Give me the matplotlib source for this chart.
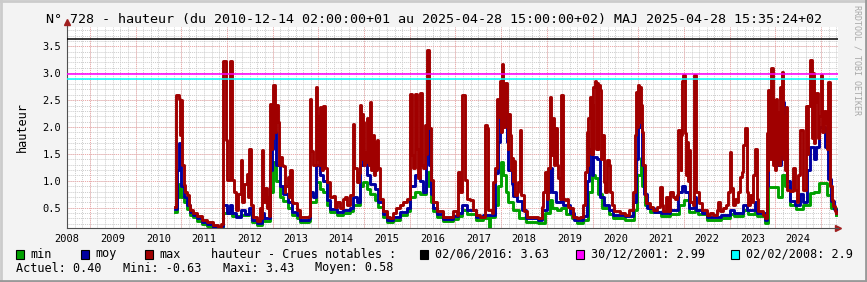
import matplotlib.pyplot as plt
from matplotlib.patches import Rectangle
import numpy as np

# (axis year, hauteur m), drawn as steps
max_pts = [
    (2010.37, 0.52), (2010.39, 2.59), (2010.44, 2.52), (2010.47, 1.85), (2010.49, 2.50),
    (2010.52, 1.30), (2010.55, 0.92), (2010.58, 0.80), (2010.62, 0.74), (2010.66, 0.55),
    (2010.69, 0.46), (2010.76, 0.40), (2010.84, 0.34), (2010.95, 0.28), (2011.06, 0.24),
    (2011.20, 0.18), (2011.30, 0.15), (2011.38, 0.20), (2011.41, 0.40), (2011.42, 3.23),
    (2011.47, 1.76), (2011.50, 1.01), (2011.56, 3.23), (2011.62, 1.02), (2011.66, 0.80),
    (2011.70, 0.45), (2011.74, 0.75), (2011.80, 1.39), (2011.84, 0.60), (2011.88, 0.95),
    (2011.93, 1.12), (2011.96, 0.70), (2011.98, 1.59), (2012.02, 0.55), (2012.06, 0.32),
    (2012.15, 0.25), (2012.22, 0.50), (2012.24, 0.30), (2012.26, 1.58), (2012.29, 0.60),
    (2012.33, 0.86), (2012.37, 0.50), (2012.39, 0.70), (2012.42, 0.35), (2012.44, 2.43),
    (2012.46, 1.60), (2012.48, 2.25), (2012.50, 1.80), (2012.51, 2.79), (2012.55, 1.90),
    (2012.58, 2.41), (2012.61, 2.10), (2012.63, 1.30), (2012.65, 1.44), (2012.70, 1.30),
    (2012.73, 1.28), (2012.76, 0.80), (2012.78, 0.90), (2012.84, 1.08), (2012.86, 0.70),
    (2012.88, 1.20), (2012.92, 0.60), (2012.95, 0.58), (2013.03, 0.46), (2013.10, 0.33),
    (2013.30, 0.35), (2013.32, 2.52), (2013.35, 1.56), (2013.39, 1.29), (2013.44, 2.75),
    (2013.47, 1.40), (2013.49, 2.20), (2013.51, 1.30), (2013.53, 2.38), (2013.55, 1.30),
    (2013.57, 2.22), (2013.59, 1.20), (2013.61, 2.39), (2013.64, 1.23), (2013.68, 0.98),
    (2013.75, 0.70), (2013.83, 0.71), (2013.87, 0.52), (2013.90, 0.61), (2013.97, 0.49),
    (2014.05, 0.67), (2014.08, 0.70), (2014.12, 0.55), (2014.19, 0.74), (2014.25, 2.06),
    (2014.29, 1.23), (2014.34, 0.98), (2014.38, 1.14), (2014.41, 2.41), (2014.43, 1.40),
    (2014.45, 2.25), (2014.48, 2.10), (2014.50, 1.30), (2014.52, 1.54), (2014.54, 1.35),
    (2014.56, 2.16), (2014.59, 2.04), (2014.61, 1.30), (2014.63, 2.46), (2014.65, 1.20),
    (2014.67, 1.79), (2014.70, 1.85), (2014.72, 1.10), (2014.74, 1.73), (2014.76, 1.20),
    (2014.78, 1.76), (2014.81, 1.23), (2014.85, 0.67), (2014.92, 0.43), (2015.00, 0.33),
    (2015.07, 0.30), (2015.14, 0.40), (2015.21, 0.49), (2015.29, 0.55), (2015.36, 0.61),
    (2015.43, 0.67), (2015.50, 0.70), (2015.51, 2.61), (2015.54, 1.48), (2015.58, 1.23),
    (2015.61, 2.61), (2015.65, 1.60), (2015.67, 1.10), (2015.69, 1.05), (2015.72, 2.63),
    (2015.76, 1.30), (2015.80, 1.23), (2015.83, 2.04), (2015.86, 1.50), (2015.88, 3.43),
    (2015.93, 1.98), (2015.96, 1.02), (2016.00, 0.61), (2016.09, 0.43), (2016.23, 0.33),
    (2016.38, 0.33), (2016.45, 0.43), (2016.53, 0.36), (2016.56, 1.17), (2016.60, 0.80),
    (2016.64, 2.59), (2016.70, 1.01), (2016.75, 0.67), (2016.82, 0.64), (2016.89, 0.46),
    (2016.96, 0.36), (2017.04, 0.33), (2017.14, 0.40), (2017.15, 2.04), (2017.18, 1.98),
    (2017.22, 0.45), (2017.30, 0.40), (2017.33, 0.98), (2017.37, 1.23), (2017.40, 2.52),
    (2017.44, 2.19), (2017.47, 2.86), (2017.50, 1.90), (2017.52, 3.18), (2017.55, 2.00),
    (2017.58, 2.81), (2017.62, 2.25), (2017.64, 1.60), (2017.66, 2.25), (2017.69, 1.85),
    (2017.71, 1.20), (2017.73, 1.42), (2017.75, 1.00), (2017.77, 1.36), (2017.80, 0.74),
    (2017.84, 0.80), (2017.87, 0.98), (2017.91, 1.95), (2017.94, 0.74), (2017.99, 0.43),
    (2018.06, 0.33), (2018.20, 0.33), (2018.30, 0.30), (2018.39, 0.52), (2018.42, 0.80),
    (2018.46, 1.17), (2018.50, 0.67), (2018.53, 1.23), (2018.56, 2.56), (2018.60, 1.48),
    (2018.64, 2.16), (2018.66, 1.30), (2018.68, 1.98), (2018.72, 1.29), (2018.75, 1.05),
    (2018.79, 0.67), (2018.81, 2.59), (2018.86, 0.67), (2018.90, 0.64), (2018.93, 0.67),
    (2018.97, 0.52), (2019.01, 0.49), (2019.08, 0.33), (2019.15, 0.30), (2019.22, 0.33),
    (2019.30, 0.55), (2019.33, 1.17), (2019.37, 1.91), (2019.39, 1.30), (2019.41, 2.16),
    (2019.44, 2.56), (2019.46, 1.50), (2019.48, 2.41), (2019.50, 1.50), (2019.52, 2.75),
    (2019.55, 2.86), (2019.57, 1.60), (2019.59, 2.81), (2019.61, 1.60), (2019.63, 2.78),
    (2019.66, 2.69), (2019.68, 1.40), (2019.70, 1.85), (2019.74, 0.98), (2019.77, 0.80),
    (2019.81, 1.39), (2019.85, 1.29), (2019.88, 0.80), (2019.92, 0.55), (2019.96, 0.43),
    (2020.10, 0.40), (2020.20, 0.36), (2020.30, 0.46), (2020.39, 0.80), (2020.43, 1.85),
    (2020.46, 2.66), (2020.48, 2.00), (2020.50, 2.78), (2020.52, 2.10), (2020.54, 2.75),
    (2020.57, 2.41), (2020.59, 1.91), (2020.61, 1.29), (2020.65, 0.74), (2020.68, 0.58),
    (2020.75, 0.52), (2020.83, 0.46), (2020.90, 0.52), (2020.97, 0.89), (2021.01, 0.55),
    (2021.05, 0.43), (2021.10, 0.70), (2021.15, 0.43), (2021.20, 0.80), (2021.27, 0.70),
    (2021.30, 0.67), (2021.34, 0.74), (2021.38, 1.95), (2021.41, 1.91), (2021.43, 1.20),
    (2021.44, 1.85), (2021.46, 2.86), (2021.49, 2.97), (2021.53, 1.89), (2021.55, 1.10),
    (2021.57, 1.73), (2021.59, 1.00), (2021.61, 1.57), (2021.64, 0.61), (2021.69, 0.55),
    (2021.72, 2.97), (2021.76, 0.80), (2021.82, 0.58), (2021.90, 0.46), (2022.00, 0.36),
    (2022.07, 0.40), (2022.14, 0.36), (2022.22, 0.46), (2022.25, 0.61), (2022.29, 0.43),
    (2022.36, 0.49), (2022.43, 0.55), (2022.47, 0.80), (2022.51, 1.54), (2022.54, 0.86),
    (2022.58, 0.55), (2022.62, 0.67), (2022.65, 0.61), (2022.69, 0.80), (2022.73, 1.08),
    (2022.76, 1.17), (2022.80, 1.67), (2022.84, 1.98), (2022.87, 0.80), (2022.91, 0.55),
    (2022.95, 0.74), (2022.98, 0.61), (2023.02, 1.11), (2023.05, 1.60), (2023.09, 0.67),
    (2023.13, 0.43), (2023.22, 0.36), (2023.27, 0.30), (2023.31, 1.89), (2023.33, 1.20),
    (2023.35, 2.69), (2023.38, 1.40), (2023.41, 3.09), (2023.44, 1.30), (2023.46, 2.50),
    (2023.49, 1.20), (2023.51, 2.52), (2023.54, 1.40), (2023.56, 2.28), (2023.58, 1.30),
    (2023.60, 2.75), (2023.62, 1.50), (2023.64, 3.03), (2023.67, 1.40), (2023.69, 2.20),
    (2023.71, 1.20), (2023.73, 2.38), (2023.76, 0.83), (2023.82, 0.82), (2023.89, 1.24),
    (2023.93, 0.83), (2023.97, 0.60), (2024.00, 1.10), (2024.04, 1.94), (2024.11, 0.83),
    (2024.17, 2.40), (2024.20, 1.50), (2024.22, 2.40), (2024.26, 3.25), (2024.30, 1.80),
    (2024.32, 3.00), (2024.35, 1.70), (2024.37, 2.47), (2024.40, 2.63), (2024.44, 1.80),
    (2024.46, 2.20), (2024.50, 2.97), (2024.53, 1.90), (2024.56, 2.30), (2024.61, 2.07),
    (2024.64, 1.60), (2024.66, 2.84), (2024.70, 0.90), (2024.73, 0.64), (2024.77, 0.53),
    (2024.80, 0.44), (2024.83, 0.40),
]

moy_pts = [
    (2010.37, 0.47), (2010.40, 1.20), (2010.44, 1.70), (2010.47, 1.40), (2010.50, 0.90),
    (2010.55, 0.70), (2010.62, 0.55), (2010.69, 0.42), (2010.76, 0.36), (2010.84, 0.30),
    (2010.95, 0.24), (2011.06, 0.20), (2011.20, 0.15), (2011.30, 0.12), (2011.40, 0.16),
    (2011.42, 0.55), (2011.50, 0.40), (2011.56, 0.55), (2011.62, 0.40), (2011.70, 0.33),
    (2011.80, 0.45), (2011.90, 0.38), (2011.98, 0.50), (2012.05, 0.28), (2012.15, 0.21),
    (2012.26, 0.40), (2012.30, 0.30), (2012.42, 0.30), (2012.44, 1.20), (2012.48, 1.60),
    (2012.51, 1.90), (2012.58, 1.30), (2012.65, 0.90), (2012.73, 0.75), (2012.84, 0.60),
    (2012.92, 0.42), (2013.03, 0.36), (2013.10, 0.28), (2013.30, 0.30), (2013.32, 0.80),
    (2013.39, 0.70), (2013.44, 1.29), (2013.53, 1.10), (2013.61, 1.00), (2013.68, 0.65),
    (2013.75, 0.48), (2013.90, 0.42), (2014.05, 0.45), (2014.19, 0.50), (2014.25, 0.70),
    (2014.34, 0.60), (2014.41, 1.30), (2014.48, 1.54), (2014.56, 1.10), (2014.63, 0.95),
    (2014.74, 0.85), (2014.81, 0.60), (2014.92, 0.38), (2015.00, 0.28), (2015.14, 0.32),
    (2015.29, 0.42), (2015.43, 0.50), (2015.51, 0.90), (2015.61, 1.11), (2015.72, 1.00),
    (2015.80, 0.80), (2015.85, 1.50), (2015.88, 2.04), (2015.93, 1.30), (2015.96, 0.75),
    (2016.00, 0.50), (2016.09, 0.38), (2016.23, 0.29), (2016.45, 0.34), (2016.56, 0.40),
    (2016.64, 0.55), (2016.75, 0.45), (2016.96, 0.32), (2017.11, 0.36), (2017.30, 0.36),
    (2017.37, 1.14), (2017.44, 1.73), (2017.48, 2.52), (2017.55, 2.52), (2017.58, 2.25),
    (2017.62, 1.73), (2017.66, 1.20), (2017.73, 0.95), (2017.77, 0.72), (2017.85, 0.62),
    (2017.95, 0.45), (2018.05, 0.30), (2018.30, 0.28), (2018.40, 0.45), (2018.50, 0.80),
    (2018.56, 1.23), (2018.62, 0.80), (2018.70, 0.60), (2018.81, 0.70), (2018.86, 0.55),
    (2019.00, 0.40), (2019.10, 0.28), (2019.30, 0.35), (2019.37, 1.00), (2019.42, 1.60),
    (2019.48, 1.11), (2019.52, 1.45), (2019.60, 1.40), (2019.66, 0.70), (2019.75, 0.55),
    (2019.85, 0.45), (2019.95, 0.36), (2020.20, 0.34), (2020.38, 0.60), (2020.45, 1.40),
    (2020.50, 2.00), (2020.55, 2.10), (2020.58, 1.30), (2020.62, 0.75), (2020.70, 0.50),
    (2020.85, 0.42), (2021.00, 0.40), (2021.20, 0.45), (2021.38, 0.80), (2021.45, 0.90),
    (2021.53, 0.80), (2021.62, 0.50), (2021.72, 0.70), (2021.76, 0.45), (2021.90, 0.40),
    (2022.00, 0.32), (2022.30, 0.36), (2022.50, 0.45), (2022.60, 0.40), (2022.80, 0.55),
    (2022.87, 0.45), (2023.00, 0.45), (2023.05, 0.60), (2023.10, 0.40), (2023.27, 0.27),
    (2023.31, 0.90), (2023.35, 1.50), (2023.46, 1.50), (2023.55, 1.30), (2023.62, 2.00),
    (2023.64, 2.47), (2023.69, 1.60), (2023.75, 1.00), (2023.82, 0.62), (2023.92, 0.55),
    (2024.04, 0.75), (2024.11, 0.60), (2024.20, 1.20), (2024.26, 1.63), (2024.35, 1.40),
    (2024.40, 1.63), (2024.46, 2.00), (2024.55, 2.00), (2024.58, 1.63), (2024.66, 1.03),
    (2024.72, 0.63), (2024.78, 0.47), (2024.83, 0.42),
]

min_pts = [
    (2010.37, 0.42), (2010.40, 0.70), (2010.44, 0.95), (2010.50, 0.70), (2010.55, 0.60),
    (2010.62, 0.48), (2010.69, 0.37), (2010.76, 0.32), (2010.84, 0.26), (2010.95, 0.20),
    (2011.06, 0.16), (2011.20, 0.12), (2011.30, 0.09), (2011.40, 0.12), (2011.42, 0.40),
    (2011.56, 0.42), (2011.62, 0.34), (2011.80, 0.36), (2011.98, 0.40), (2012.05, 0.24),
    (2012.15, 0.17), (2012.26, 0.34), (2012.30, 0.26), (2012.42, 0.26), (2012.44, 0.80),
    (2012.51, 1.35), (2012.58, 1.00), (2012.65, 0.70), (2012.73, 0.62), (2012.84, 0.50),
    (2012.92, 0.37), (2013.03, 0.31), (2013.10, 0.24), (2013.30, 0.26), (2013.32, 0.60),
    (2013.44, 0.98), (2013.53, 0.85), (2013.61, 0.80), (2013.68, 0.55), (2013.75, 0.42),
    (2013.90, 0.37), (2014.05, 0.40), (2014.19, 0.44), (2014.25, 0.55), (2014.41, 0.90),
    (2014.48, 0.98), (2014.56, 0.85), (2014.63, 0.75), (2014.74, 0.65), (2014.81, 0.52),
    (2014.92, 0.33), (2015.00, 0.24), (2015.14, 0.27), (2015.29, 0.37), (2015.43, 0.44),
    (2015.51, 0.70), (2015.61, 0.80), (2015.72, 0.75), (2015.85, 0.90), (2015.88, 1.17),
    (2015.93, 0.90), (2015.96, 0.60), (2016.00, 0.44), (2016.09, 0.33), (2016.23, 0.25),
    (2016.45, 0.29), (2016.56, 0.35), (2016.64, 0.45), (2016.75, 0.38), (2016.96, 0.27),
    (2017.11, 0.30), (2017.24, -0.63), (2017.26, 0.32), (2017.37, 0.55), (2017.44, 0.90),
    (2017.49, 1.35), (2017.55, 1.10), (2017.60, 0.80), (2017.66, 0.60), (2017.75, 0.45),
    (2017.90, 0.30), (2018.05, 0.24), (2018.30, 0.22), (2018.45, 0.40), (2018.56, 0.65),
    (2018.62, 0.50), (2018.72, 0.45), (2018.81, 0.50), (2018.92, 0.38), (2019.05, 0.30),
    (2019.15, 0.22), (2019.30, 0.28), (2019.40, 0.80), (2019.48, 1.11), (2019.55, 1.05),
    (2019.62, 0.75), (2019.70, 0.50), (2019.85, 0.38), (2019.95, 0.30), (2020.20, 0.28),
    (2020.40, 0.45), (2020.48, 1.10), (2020.55, 1.42), (2020.59, 0.90), (2020.65, 0.55),
    (2020.75, 0.42), (2021.00, 0.34), (2021.20, 0.38), (2021.40, 0.55), (2021.50, 0.65),
    (2021.62, 0.42), (2021.75, 0.45), (2021.80, 0.38), (2022.00, 0.27), (2022.30, 0.30),
    (2022.50, 0.38), (2022.60, 0.34), (2022.80, 0.45), (2022.90, 0.38), (2023.05, 0.45),
    (2023.10, 0.34), (2023.27, 0.22), (2023.33, 0.89), (2023.46, 0.89), (2023.55, 0.70),
    (2023.64, 1.10), (2023.72, 0.90), (2023.82, 0.55), (2023.95, 0.48), (2024.10, 0.55),
    (2024.26, 0.77), (2024.35, 0.80), (2024.45, 0.96), (2024.56, 0.96), (2024.64, 0.74),
    (2024.72, 0.50), (2024.83, 0.37),
]

crue_labels = ['02/06/2016: 3.63', '30/12/2001: 2.99', '02/02/2008: 2.9']
crue_values = [3.63, 2.99, 2.90]
crue_colors = ['#000000', '#ff00ff', '#00ffff']
years = list(range(2008, 2025))
stats = ['Actuel: 0.40', 'Mini: -0.63', 'Maxi: 3.43', 'Moyen: 0.58']

W, H = 867, 282
fig = plt.figure(figsize=(W / 100, H / 100), dpi=100, facecolor='#f3f3f3')
px_year = 45.7
x0, x1, ytop, ybot = 67, 838, 27, 228
ax = fig.add_axes([x0 / W, 1 - ybot / H, (x1 - x0) / W, (ybot - ytop) / H])
ax.set_facecolor('white')
ax.set_xlim(2008, 2008 + (x1 - x0) / px_year)
ax.set_ylim(0.123, 3.86)

mono = 'DejaVu Sans Mono'
# grid: fine grey every 2 months / 0.1 m, pink every year (mid) / 0.5 m
for gx in np.arange(2008, 2025, 1 / 6):
    ax.axvline(gx, color='#cccccc', lw=0.7, ls=(0, (1, 1)), zorder=0)
for gy in np.arange(0.2, 3.9, 0.1):
    ax.axhline(gy, color='#cccccc', lw=0.7, ls=(0, (1, 1)), zorder=0)
for gx in np.arange(2008.5, 2025, 1):
    ax.axvline(gx, color='#f0a8a8', lw=0.7, ls=(0, (1, 1)), zorder=0.5)
for gy in np.arange(0.5, 3.6, 0.5):
    ax.axhline(gy, color='#f0a8a8', lw=0.7, ls=(0, (1, 1)), zorder=0.5)

lw = 2.1
for pts, c, z in [(min_pts, '#00a000', 2), (moy_pts, '#0000a0', 3), (max_pts, '#a00000', 4)]:
    t, v = zip(*pts)
    ax.step(t, v, where='post', color=c, lw=lw, zorder=z)
for v, c in zip(crue_values, crue_colors):
    ax.axhline(v, color=c, lw=1.1, zorder=5)

for s in ['top', 'right']:
    ax.spines[s].set_visible(False)
for s in ['left', 'bottom']:
    ax.spines[s].set_color('#505050')
    ax.spines[s].set_linewidth(0.8)
ax.set_xticks(years)
ax.set_xticklabels([str(y) for y in years], fontfamily=mono, fontsize=7.5)
ax.set_yticks([0.5, 1.0, 1.5, 2.0, 2.5, 3.0, 3.5])
ax.set_yticklabels(['0.5', '1.0', '1.5', '2.0', '2.5', '3.0', '3.5'], fontfamily=mono, fontsize=7.5)
ax.tick_params(length=0, pad=4, colors='#000000')
ax.plot([2008, 2008], [3.86, 3.95], color='#505050', lw=0.8, clip_on=False)
ax.plot([2008], [3.95], marker='^', color='#a02020', ms=4, clip_on=False)
ax.plot([ax.get_xlim()[1]], [0.123], marker='>', color='#a02020', ms=4, clip_on=False)
ax.set_ylabel('hauteur', fontfamily=mono, fontsize=8.5, labelpad=10)

fig.text(0.5, 1 - 19 / H, 'N° 728 - hauteur (du 2010-12-14 02:00:00+01 au 2025-04-28 15:00:00+02) '
         'MAJ 2025-04-28 15:35:24+02', ha='center', va='center', fontfamily=mono, fontsize=9.6)
fig.text(857 / W, 1 - 60 / H, 'RRDTOOL / TOBI OETIKER', rotation=270, ha='center', va='center',
         fontfamily=mono, fontsize=6, color='#a8a8a8')


def swatch(x, color, y=254):
    fig.patches.append(Rectangle((x / W, 1 - (y + 4.5) / H), 8 / W, 9 / H, transform=fig.transFigure,
                                 facecolor=color, edgecolor='black', lw=0.8))


for x, c, lab in [(16, '#00a000', 'min'), (81, '#0000a0', 'moy'), (145, '#a00000', 'max')]:
    swatch(x, c)
    fig.text((x + 14) / W, 1 - 254 / H, lab, va='center', fontfamily=mono, fontsize=8.5)
fig.text(211 / W, 1 - 254 / H, 'hauteur - Crues notables :', va='center', fontfamily=mono, fontsize=8.5)
for x, c, lab in zip([420, 576, 731], crue_colors, crue_labels):
    swatch(x, c)
    fig.text((x + 15) / W, 1 - 254 / H, lab, va='center', fontfamily=mono, fontsize=8.5)
for x, s in zip([16, 123, 223, 315], stats):
    fig.text(x / W, 1 - 268 / H, s, va='center', fontfamily=mono, fontsize=8.5)

# frame
fig.add_artist(plt.Line2D([0, 1], [1 - 1 / H, 1 - 1 / H], color='#cbcbcb', lw=2))
fig.add_artist(plt.Line2D([1 / W, 1 / W], [0, 1], color='#cbcbcb', lw=2))
fig.add_artist(plt.Line2D([0, 1], [1 / H, 1 / H], color='#999999', lw=2))
fig.add_artist(plt.Line2D([1 - 1 / W, 1 - 1 / W], [0, 1], color='#999999', lw=2))

fig.savefig('out.png', dpi=100, facecolor=fig.get_facecolor())
